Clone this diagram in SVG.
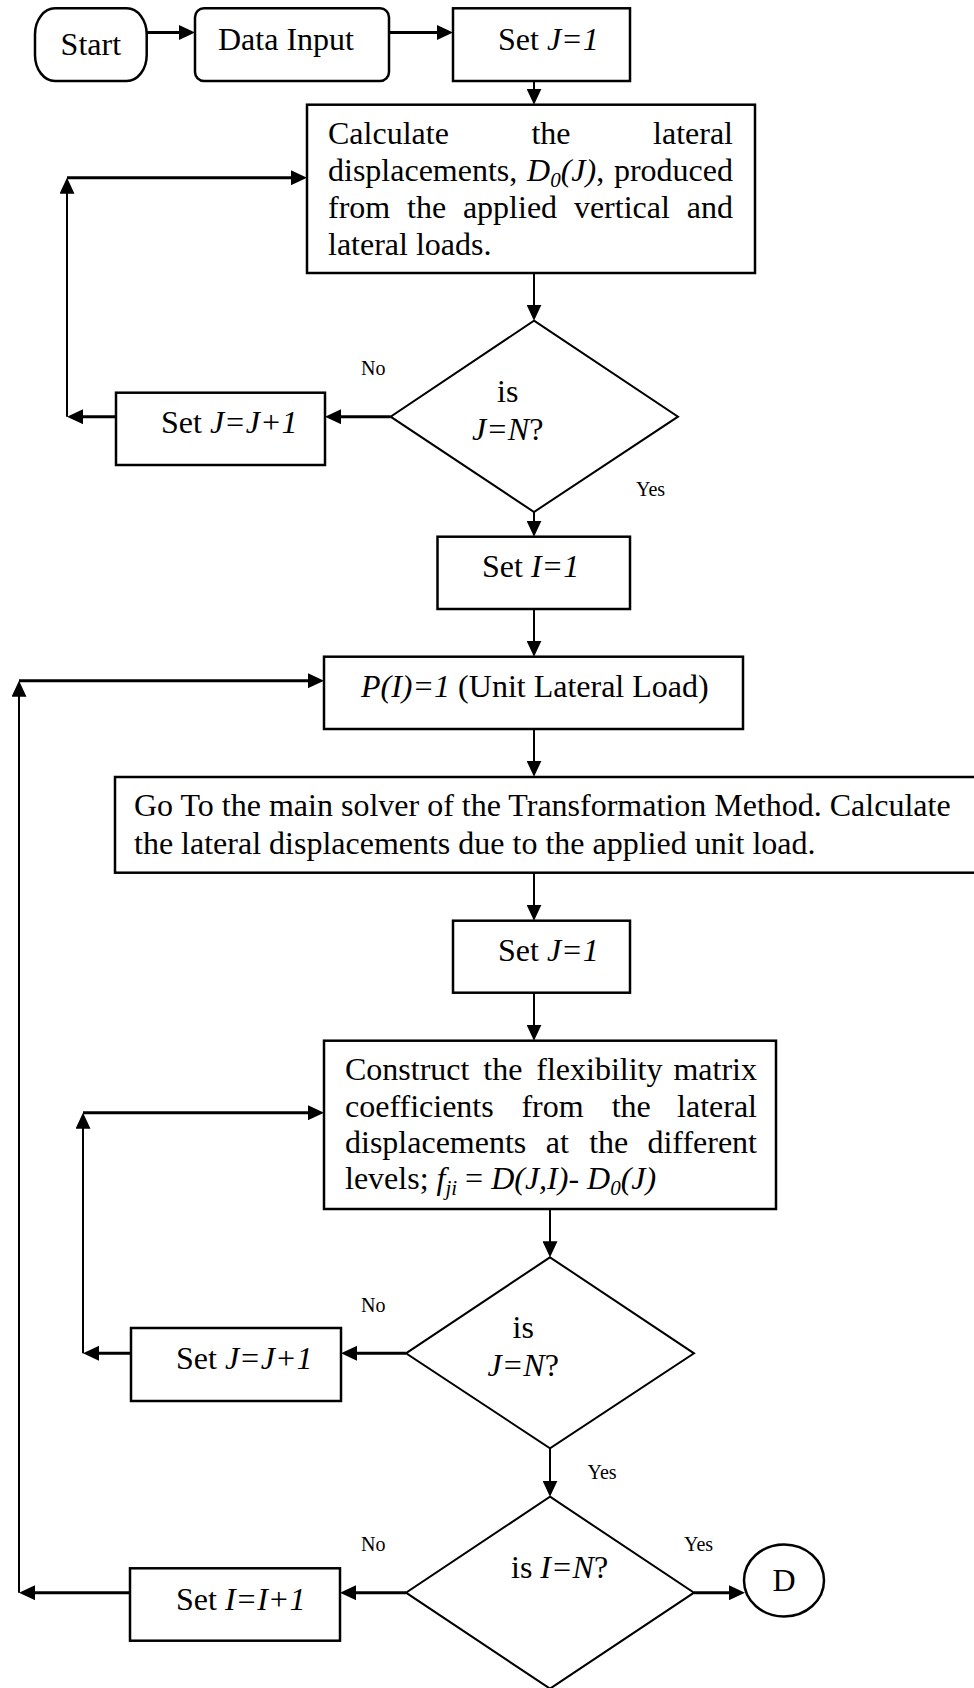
<svg xmlns="http://www.w3.org/2000/svg" width="974" height="1688" viewBox="0 0 974 1688">
  <style>
    .box { fill: #fff; stroke: #000; stroke-width: 2.5; }
    .dec { fill: #fff; stroke: #000; stroke-width: 2; }
    .t { font-family: "Liberation Serif", "Times New Roman", serif; font-size: 32px; fill: #000; }
    .lbl { font-family: "Liberation Serif", "Times New Roman", serif; font-size: 20px; fill: #000; }
    .i { font-style: italic; }
    .sub { font-style: italic; font-size: 21px; }
    .v { fill: none; stroke: #000; stroke-width: 2; marker-end: url(#arrow); }
    .h { fill: none; stroke: #000; stroke-width: 3; marker-end: url(#arrow); }
  </style>
  <defs>
    <marker id="arrow" markerUnits="userSpaceOnUse" viewBox="0 0 16 15" markerWidth="16" markerHeight="15" refX="6" refY="7.5" orient="auto">
      <path d="M0,0 L16,7.5 L0,15 z" fill="#000"/>
    </marker>
  </defs>

  <rect width="974" height="1688" fill="#fff"/>

  <!-- connectors -->
  <g id="connectors">
    <path class="h" d="M147,32.5 H185"/>
    <path class="h" d="M389,32.5 H443"/>
    <path class="v" d="M534,81 V94.7"/>
    <path class="v" d="M534,273 V310.7"/>
    <path class="h" d="M390.6,416.7 H335"/>
    <path class="h" d="M116,416.7 H77"/>
    <path class="v" d="M67,416.7 V187.7"/>
    <path class="h" d="M67,177.7 H297"/>
    <path class="v" d="M534,512 V526.7"/>
    <path class="v" d="M534,609 V646.7"/>
    <path class="v" d="M534,729 V766.7"/>
    <path class="v" d="M534,872.7 V910.7"/>
    <path class="v" d="M534,992.7 V1030.7"/>
    <path class="v" d="M550,1209 V1247.3"/>
    <path class="h" d="M406,1353.3 H351"/>
    <path class="h" d="M131,1353.3 H93"/>
    <path class="v" d="M83,1353.3 V1122.7"/>
    <path class="h" d="M83,1112.7 H314"/>
    <path class="v" d="M550,1448.3 V1486.7"/>
    <path class="h" d="M406,1592.7 H350"/>
    <path class="h" d="M130,1592.7 H29"/>
    <path class="v" d="M19,1592.7 V690.7"/>
    <path class="h" d="M19,680.7 H314"/>
    <path class="h" d="M694,1592.7 H735"/>
  </g>

  <!-- nodes -->
  <g id="start">
    <rect class="box" x="35" y="8.3" width="111.7" height="72.7" rx="20" ry="26"/>
    <text class="t" x="90.8" y="55" text-anchor="middle">Start</text>
  </g>

  <g id="data-input">
    <rect class="box" x="195" y="8.3" width="194" height="72.7" rx="9"/>
    <text class="t" x="218" y="49.5">Data Input</text>
  </g>

  <g id="set-j1-a">
    <rect class="box" x="453" y="8.3" width="177" height="72.7"/>
    <text class="t" x="498" y="50">Set <tspan class="i">J=1</tspan></text>
  </g>

  <g id="calc-d0">
    <rect class="box" x="307" y="104.7" width="448" height="168.3"/>
    <text class="t" y="144"><tspan x="328">Calculate</tspan><tspan x="531.4">the</tspan><tspan x="733" text-anchor="end">lateral</tspan></text>
    <text class="t" y="181"><tspan x="328">displacements,</tspan><tspan x="527.1" class="i">D</tspan><tspan class="sub" dy="6">0</tspan><tspan class="i" dy="-6">(J)</tspan>,</text>
    <text class="t" x="733" y="181" text-anchor="end">produced</text>
    <text class="t" y="218.3"><tspan x="328">from</tspan><tspan x="407">the</tspan><tspan x="462.9">applied</tspan><tspan x="573.9">vertical</tspan><tspan x="733" text-anchor="end">and</tspan></text>
    <text class="t" x="328" y="255.3">lateral loads.</text>
  </g>

  <g id="check-j-a">
    <polygon class="dec" points="534,320.7 678,416.7 534,512 390.6,416.7"/>
    <text class="t" x="497" y="402">is</text>
    <text class="t" x="472" y="440"><tspan class="i">J=N</tspan>?</text>
    <text class="lbl" x="361" y="375">No</text>
    <text class="lbl" x="636" y="496">Yes</text>
  </g>

  <g id="inc-j-a">
    <rect class="box" x="116" y="392.7" width="209" height="72.3"/>
    <text class="t" x="161" y="433">Set <tspan class="i">J=J+1</tspan></text>
  </g>

  <g id="set-i1">
    <rect class="box" x="437.5" y="536.7" width="192.5" height="72.3"/>
    <text class="t" x="482" y="576.7">Set <tspan class="i">I=1</tspan></text>
  </g>

  <g id="unit-load">
    <rect class="box" x="324" y="656.7" width="419" height="72.3"/>
    <text class="t" x="361" y="696.7"><tspan class="i">P(I)=1</tspan> (Unit Lateral Load)</text>
  </g>

  <g id="solver">
    <rect class="box" x="115" y="777" width="880" height="95.7"/>
    <text class="t" x="134" y="816">Go To the main solver of the Transformation Method. Calculate</text>
    <text class="t" x="134" y="853.5">the lateral displacements due to the applied unit load.</text>
  </g>

  <g id="set-j1-b">
    <rect class="box" x="453" y="920.7" width="177" height="72"/>
    <text class="t" x="498" y="961">Set <tspan class="i">J=1</tspan></text>
  </g>

  <g id="flex-matrix">
    <rect class="box" x="324" y="1040.7" width="452" height="168.3"/>
    <text class="t" y="1080"><tspan x="345">Construct</tspan><tspan x="483.3">the</tspan><tspan x="536.3">flexibility</tspan><tspan x="757" text-anchor="end">matrix</tspan></text>
    <text class="t" y="1116.7"><tspan x="345">coefficients</tspan><tspan x="521.4">from</tspan><tspan x="611.7">the</tspan><tspan x="757" text-anchor="end">lateral</tspan></text>
    <text class="t" y="1153.3"><tspan x="345">displacements</tspan><tspan x="545.7">at</tspan><tspan x="589.2">the</tspan><tspan x="757" text-anchor="end">different</tspan></text>
    <text class="t" x="345" y="1189.3">levels; <tspan class="i">f</tspan><tspan class="sub" dy="6">ji</tspan><tspan dy="-6"> = </tspan><tspan class="i">D(J,I)</tspan>- <tspan class="i">D</tspan><tspan class="sub" dy="6">0</tspan><tspan class="i" dy="-6">(J)</tspan></text>
  </g>

  <g id="check-j-b">
    <polygon class="dec" points="550,1257.3 694,1353.3 550,1448.3 406,1353.3"/>
    <text class="t" x="512.5" y="1338">is</text>
    <text class="t" x="487.5" y="1376"><tspan class="i">J=N</tspan>?</text>
    <text class="lbl" x="361" y="1311.7">No</text>
    <text class="lbl" x="587.5" y="1479.3">Yes</text>
  </g>

  <g id="inc-j-b">
    <rect class="box" x="131" y="1328" width="210" height="73"/>
    <text class="t" x="176" y="1369.3">Set <tspan class="i">J=J+1</tspan></text>
  </g>

  <g id="check-i">
    <polygon class="dec" points="550,1496.7 694,1592.7 550,1688.7 406,1592.7"/>
    <text class="t" x="511" y="1578.3">is <tspan class="i">I=N</tspan>?</text>
    <text class="lbl" x="361" y="1551">No</text>
    <text class="lbl" x="684" y="1551">Yes</text>
  </g>

  <g id="inc-i">
    <rect class="box" x="130" y="1568.3" width="210" height="72.4"/>
    <text class="t" x="176" y="1610">Set <tspan class="i">I=I+1</tspan></text>
  </g>

  <g id="connector-d">
    <ellipse class="box" cx="784" cy="1580.5" rx="40" ry="36" stroke-width="2"/>
    <text class="t" x="784" y="1591" text-anchor="middle">D</text>
  </g>
</svg>
